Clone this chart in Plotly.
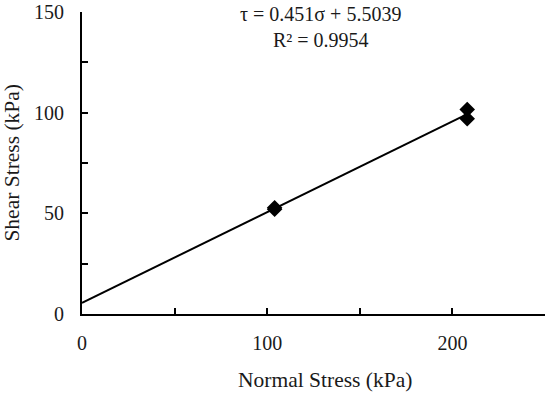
import numpy as np
import plotly.graph_objects as go

normal_stress = [104.0, 104.0, 208.0, 208.0]
shear_stress = [52.0, 52.8, 101.6, 97.0]
slope = 0.451
intercept = 5.5039
r_squared = 0.9954

x_ticks = [0, 100, 200]
y_ticks = [0, 50, 100, 150]

font_family = "Liberation Serif, Times New Roman, serif"
text_color = "#1a1a1a"

line_x = np.array([0.0, max(normal_stress)])
line_y = slope * line_x + intercept

fig = go.Figure()
fig.add_trace(go.Scatter(x=line_x, y=line_y, mode="lines",
                         line=dict(color="black", width=2), showlegend=False, hoverinfo="skip"))
fig.add_trace(go.Scatter(x=normal_stress, y=shear_stress, mode="markers",
                         marker=dict(symbol="diamond", size=12, color="black"), showlegend=False))

axis_common = dict(showgrid=False, zeroline=False, showline=True, linecolor="black", linewidth=2,
                   ticks="inside", ticklen=6, tickwidth=2, tickcolor="black", automargin=False)

fig.update_layout(
    width=550, height=397,
    margin=dict(l=82, r=5, t=12, b=83),
    paper_bgcolor="white", plot_bgcolor="white",
    font=dict(family=font_family, size=20, color=text_color),
    xaxis=dict(range=[0, 250], tickvals=x_ticks, ticktext=[str(v) for v in x_ticks],
               minor=dict(ticks="inside", ticklen=6, tickwidth=2, tickcolor="black", dtick=50),
               ticklabelstandoff=10, **axis_common),
    yaxis=dict(range=[0, 150], tickvals=y_ticks, ticktext=[str(v) for v in y_ticks],
               minor=dict(ticks="inside", ticklen=6, tickwidth=2, tickcolor="black", dtick=25),
               ticklabelstandoff=12, **axis_common),
    annotations=[
        dict(text=f"τ = {slope}σ + {intercept}", xref="x", yref="paper",
             x=129, y=0.995, yanchor="middle", showarrow=False,
             font=dict(family=font_family, size=20, color=text_color)),
        dict(text=f"R² = {r_squared}", xref="x", yref="paper",
             x=129, y=0.908, yanchor="middle", showarrow=False,
             font=dict(family=font_family, size=20, color=text_color)),
        dict(text="Normal Stress (kPa)", xref="paper", yref="paper", x=0.524, y=-0.22,
             yanchor="middle", showarrow=False,
             font=dict(family=font_family, size=21.5, color=text_color)),
        dict(text="Shear Stress (kPa)", xref="paper", yref="paper", x=-0.152, y=0.5,
             xanchor="center", textangle=-90, showarrow=False,
             font=dict(family=font_family, size=21.5, color=text_color)),
    ],
)

fig.write_html("out.html", config={"displayModeBar": False},
               post_script="document.body.style.margin='0';")
